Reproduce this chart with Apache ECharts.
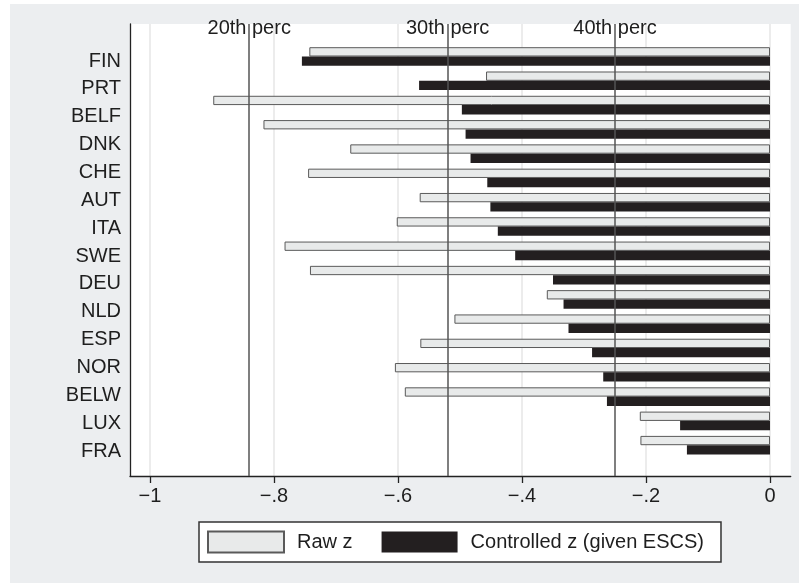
<!DOCTYPE html>
<html>
<head>
<meta charset="utf-8">
<script src="https://cdn.jsdelivr.net/npm/echarts@6/dist/echarts.min.js"></script>
<style>
html,body{margin:0;padding:0;background:#fff;}
#c{width:799px;height:583px;}
</style>
</head>
<body>
<div id="c"></div>
<script>
// ---- data ----
const countryLabels = ['FIN','PRT','BELF','DNK','CHE','AUT','ITA','SWE','DEU','NLD','ESP','NOR','BELW','LUX','FRA'];
const barRows = ['1','2','3','4','5','6','7','8','9','10','11','12','13','14','15','16','17'];
const rawZ = [-0.743,-0.458,-0.898,-0.817,-0.677,-0.745,-0.565,-0.602,-0.783,-0.742,-0.360,-0.509,-0.564,-0.605,-0.589,-0.210,-0.209];
const controlledZ = [-0.755,-0.566,-0.497,-0.491,-0.483,-0.456,-0.451,-0.439,-0.411,-0.350,-0.333,-0.325,-0.287,-0.269,-0.263,-0.145,-0.134];
const percValues = [-0.8416,-0.5244,-0.2533];
const percLabels = ['20th perc','30th perc','40th perc'];
const xTickLabels = {'-1':'\u22121','-0.8':'\u2212.8','-0.6':'\u2212.6','-0.4':'\u2212.4','-0.2':'\u2212.2','0':'0'};

const FONT = 'Liberation Sans, Arial, Helvetica, sans-serif';
const TXT = '#1e1e1e';

const chart = echarts.init(document.getElementById('c'), null, {renderer:'canvas'});
chart.setOption({
  backgroundColor: '#ffffff',
  animation: false,
  graphic: [{type:'rect', z:-10, silent:true, shape:{x:10,y:4,width:789,height:579}, style:{fill:'#eceef0'}}],
  grid: [
    {left:130, top:24, width:660.7, height:452, show:true, backgroundColor:'#ffffff', borderWidth:0},
    {left:150, top:44.35, width:620, height:413},
    {left:130, top:47.07, width:660, height:417.9},
    {left:150, top:24, width:620, height:452}
  ],
  xAxis: [
    {gridIndex:0, type:'value', min:0, max:1, axisLine:{show:true, lineStyle:{color:'#222', width:1.3}}, axisTick:{show:false}, axisLabel:{show:false}, splitLine:{show:false}},
    {gridIndex:1, type:'value', min:-1, max:0, show:false},
    {gridIndex:2, type:'value', min:0, max:1, show:false},
    {gridIndex:3, type:'value', min:-1, max:0, interval:0.2,
      axisLine:{show:false},
      axisTick:{show:true, length:7, lineStyle:{color:'#222', width:1.3}},
      axisLabel:{show:true, margin:10, fontSize:20, color:TXT, fontFamily:FONT,
        formatter:v => xTickLabels[String(Math.round(v*10)/10)] ?? ''},
      splitLine:{show:true, lineStyle:{color:'#e6e6e6', width:1.5}}}
  ],
  yAxis: [
    {gridIndex:0, type:'value', min:0, max:1, axisLine:{show:true, lineStyle:{color:'#222', width:1.3}}, axisTick:{show:false}, axisLabel:{show:false}, splitLine:{show:false}},
    {gridIndex:1, type:'category', data:barRows, inverse:true, show:false},
    {gridIndex:2, type:'category', data:countryLabels, inverse:true,
      axisLine:{show:false}, axisTick:{show:false},
      axisLabel:{show:true, margin:9, fontSize:20, color:TXT, fontFamily:FONT}},
    {gridIndex:3, type:'value', min:0, max:1, show:false}
  ],
  legend: {
    left:199, top:522, orient:'horizontal', icon:'rect',
    itemWidth:76, itemHeight:21, itemGap:29,
    padding:[8.5,17,8.5,8],
    backgroundColor:'#ffffff', borderColor:'#333', borderWidth:1.5,
    textStyle:{fontSize:20, color:TXT, fontFamily:FONT, padding:[0,0,0,8]},
    data:['Raw z','Controlled z (given ESCS)']
  },
  series: [
    {name:'Raw z', type:'bar', xAxisIndex:1, yAxisIndex:1, data:rawZ,
      barWidth:9.3, barGap:'0%',
      itemStyle:{color:'#e8eaea', borderColor:'#5a5a5a', borderWidth:1}},
    {name:'Controlled z (given ESCS)', type:'bar', xAxisIndex:1, yAxisIndex:1, data:controlledZ,
      barWidth:9.3, barGap:'0%',
      itemStyle:{color:'#231f20'}},
    {name:'ref', type:'line', xAxisIndex:3, yAxisIndex:3, data:[], z:5,
      markLine:{silent:true, symbol:'none',
        lineStyle:{color:'#555', width:1.5, type:'solid'},
        label:{show:true, position:'end', distance:-14, fontSize:20, color:TXT, fontFamily:FONT,
          formatter:p => p.name},
        data: percValues.map((v,i) => ({xAxis:v, name:percLabels[i]}))}}
  ]
});
</script>
</body>
</html>
